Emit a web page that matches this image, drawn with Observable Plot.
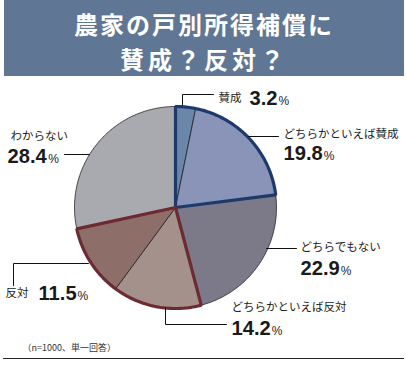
<!DOCTYPE html>
<html>
<head>
<meta charset="utf-8">
<script src="https://cdn.jsdelivr.net/npm/d3@7"></script>
<script src="https://cdn.jsdelivr.net/npm/@observablehq/plot@0.6"></script>
<style>
  html, body { margin: 0; padding: 0; background: #fff; }
  #wrap { width: 406px; height: 370px; position: relative; overflow: hidden; }
  #banner {
    position: absolute; left: 4px; top: 0; width: 400px; height: 76px;
    background: #5f7694;
  }
  .tline {
    position: absolute; left: 0; width: 400px; height: 28px; color: #fff; text-align: center;
    font-family: "Noto Sans CJK JP", sans-serif; font-weight: 700;
    font-size: 24px; line-height: 28px; letter-spacing: 2px; white-space: nowrap;
  }
  #chart { position: absolute; left: 0; top: 76px; }
</style>
</head>
<body>
<div id="wrap">
  <div id="banner">
    <div class="tline" style="top:10px">農家の戸別所得補償に</div>
    <div class="tline" style="top:45px; letter-spacing:4px">賛成？反対？</div>
  </div>
  <div id="chart"></div>
</div>
<script>
// ---- data ----
const categories = ["賛成", "どちらかといえば賛成", "どちらでもない", "どちらかといえば反対", "反対", "わからない"];
const values = [3.2, 19.8, 22.9, 14.2, 11.5, 28.4];
const valueLabels = ["3.2", "19.8", "22.9", "14.2", "11.5", "28.4"];
const colors = ["#6a86a8", "#8a93b8", "#7c7a88", "#a5918c", "#8d6e69", "#a9aab0"];
const supportGroup = ["賛成", "どちらかといえば賛成"];
const opposeGroup = ["どちらかといえば反対", "反対"];
const note = "（n=1000、単一回答）";

// ---- layout (page pixels) ----
const CX = 175, CY = 207, R = 101, TOP = 76;
const X = px => (px - CX) / R;
const Y = py => (CY - py) / R;
const layout = [
  {cat: [218, 98], val: [249, 98], pct: [280, 101], leader: [[182, 105], [182, 94], [213, 94]]},
  {cat: [283, 134], val: [283, 153], pct: [321, 156], leader: [[248, 136], [278, 136]]},
  {cat: [300, 247], val: [300, 268], pct: [341, 271], leader: [[266, 248], [296, 248]]},
  {cat: [231, 307], val: [231, 328], pct: [272, 331], leader: [[165, 307], [165, 324], [226, 324]]},
  {cat: [5, 293], val: [38, 293], pct: [76, 296], leader: [[88, 263], [13, 263], [13, 285]]},
  {cat: [10, 136], val: [7, 156], pct: [50, 159], leader: [[64, 154], [89, 154]]}
];

// ---- geometry from data ----
const total = d3.sum(values);
const starts = [];
let acc = 0;
values.forEach(v => { starts.push(acc / total * 2 * Math.PI); acc += v; });
const ends = values.map((v, i) => starts[i] + v / total * 2 * Math.PI);

function sector(a0, a1) {
  const pts = [{x: 0, y: 0}];
  const n = Math.max(2, Math.ceil((a1 - a0) / (Math.PI / 180)));
  for (let k = 0; k <= n; k++) {
    const a = a0 + (a1 - a0) * k / n;
    pts.push({x: Math.sin(a), y: Math.cos(a)});
  }
  pts.push({x: 0, y: 0});
  return pts;
}

const sliceMarks = categories.map((c, i) =>
  Plot.line(sector(starts[i], ends[i]), {x: "x", y: "y", fill: colors[i], stroke: "#222", strokeWidth: 0.8, curve: "linear"})
);

function groupOutline(group, color) {
  const idx = group.map(g => categories.indexOf(g));
  const a0 = d3.min(idx, i => starts[i]), a1 = d3.max(idx, i => ends[i]);
  return Plot.line(sector(a0, a1), {x: "x", y: "y", stroke: color, strokeWidth: 3.2, strokeLinejoin: "miter", curve: "linear"});
}

const leaders = layout.flatMap((l, i) => l.leader.map(([px, py]) => ({id: i, x: X(px), y: Y(py)})));
const catText = layout.map((l, i) => ({x: X(l.cat[0]), y: Y(l.cat[1]), t: categories[i]}));
const valText = layout.map((l, i) => ({x: X(l.val[0]), y: Y(l.val[1]), t: valueLabels[i]}));
const pctText = layout.map((l, i) => ({x: X(l.pct[0]), y: Y(l.pct[1]), t: "%"}));

const chart = Plot.plot({
  width: 406,
  height: 294,
  marginLeft: CX - R,
  marginRight: 406 - (CX + R),
  marginTop: CY - TOP - R,
  marginBottom: 294 - (CY - TOP + R),
  x: {domain: [-1, 1], axis: null},
  y: {domain: [-1, 1], axis: null},
  style: {background: "transparent", overflow: "visible"},
  marks: [
    ...sliceMarks,
    groupOutline(supportGroup, "#1d3a6c"),
    groupOutline(opposeGroup, "#6c2a33"),
    Plot.line(leaders, {x: "x", y: "y", z: "id", stroke: "#111", strokeWidth: 1}),
    Plot.text(catText, {x: "x", y: "y", text: "t", textAnchor: "start", fontSize: 11.5, fontFamily: "Noto Sans CJK JP, sans-serif", fill: "#222"}),
    Plot.text(valText, {x: "x", y: "y", text: "t", textAnchor: "start", fontSize: 21, fontWeight: "bold", fontFamily: "Liberation Sans, Arial, sans-serif", fill: "#1a1a1a", className: "valtext"}),
    Plot.text(pctText, {x: "x", y: "y", text: "t", textAnchor: "start", fontSize: 12, fontFamily: "Liberation Sans, Arial, sans-serif", fill: "#222", className: "pcttext"}),
    Plot.text([{x: X(22), y: Y(348), t: note}], {x: "x", y: "y", text: "t", textAnchor: "start", fontSize: 9, fontFamily: "Noto Sans CJK JP, sans-serif", fill: "#333"}),
    Plot.line([{x: X(3), y: Y(358)}, {x: X(403), y: Y(358)}], {x: "x", y: "y", stroke: "#222", strokeWidth: 1.2})
  ]
});
document.getElementById("chart").appendChild(chart);
// condense the bold value numbers horizontally (narrow typeface look)
const valEls = [...chart.querySelectorAll(".valtext text")];
const pctEls = [...chart.querySelectorAll(".pcttext text")];
valEls.forEach(t => {
  const tr = t.getAttribute("transform") || "";
  t.setAttribute("transform", tr + " scale(0.96,1)");
});
// place each "%" right after its number
valEls.forEach((v, i) => {
  const p = pctEls[i];
  if (!p) return;
  const vr = v.getBoundingClientRect().right;
  const pl = p.getBoundingClientRect().left;
  const dx = vr + 1 - pl;
  p.setAttribute("transform", (p.getAttribute("transform") || "") + ` translate(${dx},0)`);
});
</script>
</body>
</html>
